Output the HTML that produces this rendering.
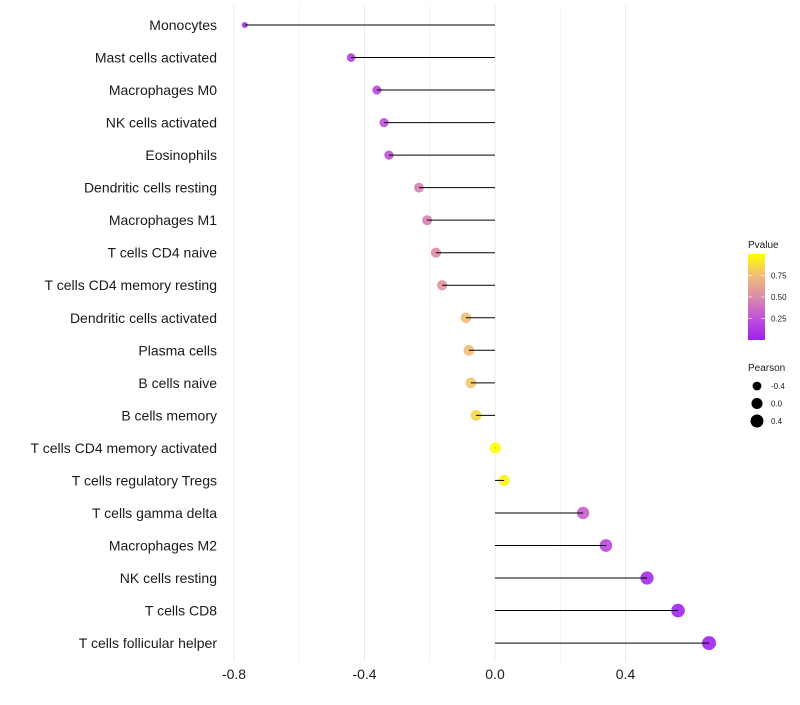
<!DOCTYPE html>
<html><head><meta charset="utf-8"><style>
body{margin:0;background:#fff;font-family:"Liberation Sans",sans-serif}
</style></head><body>
<svg id="c" width="800" height="700" xmlns="http://www.w3.org/2000/svg" font-family="Liberation Sans, sans-serif"></svg>
<script>
const categories=["Monocytes","Mast cells activated","Macrophages M0","NK cells activated","Eosinophils","Dendritic cells resting","Macrophages M1","T cells CD4 naive","T cells CD4 memory resting","Dendritic cells activated","Plasma cells","B cells naive","B cells memory","T cells CD4 memory activated","T cells regulatory  Tregs ","T cells gamma delta","Macrophages M2","NK cells resting","T cells CD8","T cells follicular helper"];
const pearson=[-0.767,-0.441,-0.362,-0.340,-0.325,-0.233,-0.208,-0.181,-0.162,-0.089,-0.080,-0.074,-0.058,0.001,0.028,0.270,0.340,0.466,0.561,0.656];
const pvalues=[0.1,0.15,0.2,0.25,0.25,0.45,0.45,0.5,0.55,0.75,0.75,0.78,0.85,1.0,0.95,0.3,0.2,0.05,0.02,0.01];
const xTicks=[-0.8,-0.4,0.0,0.4];
const xMinor=[-0.6,-0.2,0.2];
const pvTicks=[0.25,0.50,0.75];
const sizeTicks=[-0.4,0.0,0.4];
const NS="http://www.w3.org/2000/svg";
const svg=document.getElementById('c');
function el(t,a,p){const e=document.createElementNS(NS,t);for(const k in a)e.setAttribute(k,a[k]);(p||svg).appendChild(e);return e;}
const x=v=>495+v*326.25;
const y=i=>25+i*32.53;
const r=v=>Math.sqrt(Math.max(30.7+27.8*v,1));
const stops=[[0,[160,32,240]],[0.25,[192,80,216]],[0.5,[218,140,170]],[0.75,[239,190,120]],[1,[255,255,0]]];
function col(p){for(let k=1;k<stops.length;k++){if(p<=stops[k][0]){const a=stops[k-1],b=stops[k],t=(p-a[0])/(b[0]-a[0]);return 'rgb('+a[1].map((c,j)=>Math.round(c+(b[1][j]-c)*t)).join(',')+')';}}return 'rgb(255,255,0)';}
xMinor.forEach(v=>{const g=el('line',{x1:x(v),x2:x(v),y1:5,y2:662,stroke:'#f2f2f2','stroke-width':1});});
xTicks.forEach(v=>{const g=el('line',{x1:x(v),x2:x(v),y1:5,y2:662,stroke:'#ebebeb','stroke-width':1});
const t=el('text',{x:x(v),y:679,'text-anchor':'middle','font-size':14,fill:'#1a1a1a'});t.textContent=v.toFixed(1);});
categories.forEach((c,i)=>{
const t=el('text',{x:217,y:y(i)+5,'text-anchor':'end','font-size':14,fill:'#1a1a1a'});t.textContent=c;
const p=el('circle',{cx:x(pearson[i]),cy:y(i),r:r(pearson[i]),fill:col(pvalues[i]),'fill-opacity':0.9});
const l=el('line',{x1:x(0),x2:x(pearson[i]),y1:y(i),y2:y(i),stroke:'#000','stroke-width':1});
});
const lt=el('text',{x:748,y:248,'font-size':10,fill:'#1a1a1a'});lt.textContent='Pvalue';
const defs=el('defs',{});const lg=el('linearGradient',{id:'g',x1:0,y1:1,x2:0,y2:0},defs);
stops.forEach(s=>el('stop',{offset:s[0],'stop-color':'rgb('+s[1].join(',')+')'},lg));
const bar=el('rect',{x:748,y:254,width:17,height:86,fill:'url(#g)'});
const py=v=>340-v*86;
pvTicks.forEach(v=>{el('line',{x1:748,x2:752,y1:py(v),y2:py(v),stroke:'#fff','stroke-opacity':0.6});el('line',{x1:761,x2:765,y1:py(v),y2:py(v),stroke:'#fff','stroke-opacity':0.6});
const t=el('text',{x:771,y:py(v)+3,'font-size':8,fill:'#1a1a1a'});t.textContent=v.toFixed(2);});
const st=el('text',{x:748,y:371,'font-size':10,fill:'#1a1a1a'});st.textContent='Pearson';
sizeTicks.forEach((v,k)=>{const cy=386+k*17.5;const c=el('circle',{cx:757,cy:cy,r:r(v),fill:'#000'});
const t=el('text',{x:771,y:cy+3,'font-size':8,fill:'#1a1a1a'});t.textContent=v.toFixed(1);});
</script>
</body></html>
